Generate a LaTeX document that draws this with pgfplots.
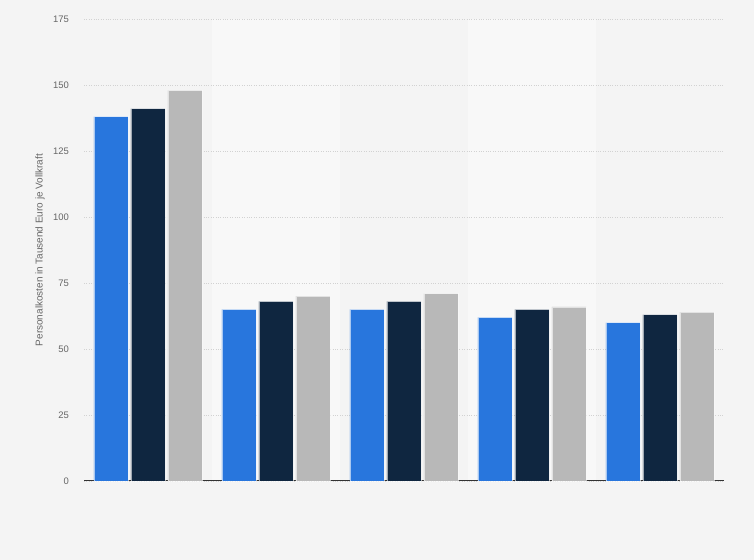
\documentclass[border=0pt]{standalone}
\usepackage{fontspec}
\setmainfont{Liberation Sans}
\usepackage{pgfplots}
\pgfplotsset{compat=1.18}

\definecolor{bgc}{HTML}{F4F4F4}
\definecolor{bandc}{HTML}{F8F8F8}
\definecolor{gridc}{HTML}{D2D2D2}
\definecolor{textc}{HTML}{666666}
\definecolor{cblue}{HTML}{2876DD}
\definecolor{cnavy}{HTML}{0F2640}
\definecolor{cgrey}{HTML}{B8B8B8}

\begin{document}
\begin{tikzpicture}[x=1bp,y=1bp]
% page background and the lighter category bands
\fill[bgc] (0,0) rectangle (754,560);
\fill[bandc] (212,79) rectangle (340,541);
\fill[bandc] (468,79) rectangle (596,541);

\begin{axis}[
  at={(84bp,79bp)}, anchor=south west,
  scale only axis,
  width=640bp, height=462bp,
  xmin=-0.5, xmax=4.5,
  ymin=0, ymax=175,
  ytick={0,25,...,175},
  xtick=\empty,
  axis x line*=bottom,
  axis y line*=left,
  x axis line style={draw=black!80, line width=1bp, -},
  y axis line style={draw=none},
  ymajorgrids,
  grid style={gridc, dotted, line width=0.8bp},
  major tick length=0pt,
  yticklabel style={font=\fontsize{9.5}{11}\selectfont, text=textc, anchor=east, inner xsep=0pt, xshift=-15bp},
  /pgf/number format/assume math mode=true,
  ylabel={Personalkosten in Tausend Euro je Vollkraft},
  every axis y label/.style={at={(axis description cs:-0.06875,0.5)}, rotate=90, anchor=center,
    font=\fontsize{10}{12}\selectfont, text=textc},
  ybar,
  bar width=0.266,
  every axis plot/.append style={draw=white, line width=0.5bp, draw opacity=0.6},
  clip=false,
]
\addplot[fill=cblue, bar shift=-0.289] coordinates {(0,138) (1,65) (2,65) (3,62) (4,60)};
\addplot[fill=cnavy, bar shift=0] coordinates {(0,141) (1,68) (2,68) (3,65) (4,63)};
\addplot[fill=cgrey, bar shift=0.289] coordinates {(0,148) (1,70) (2,71) (3,66) (4,64)};
\end{axis}
\end{tikzpicture}
\end{document}
